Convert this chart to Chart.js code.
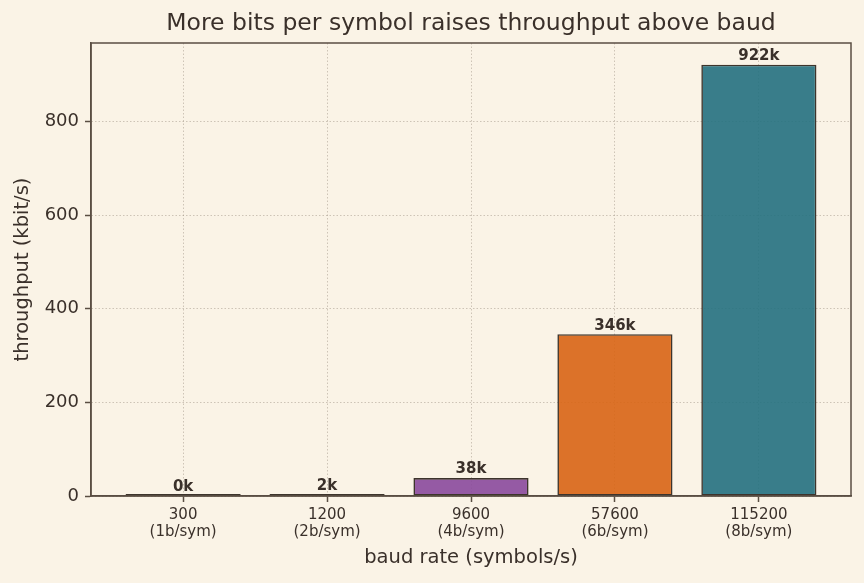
<!DOCTYPE html>
<html>
<head>
<meta charset="utf-8">
<script src="https://cdn.jsdelivr.net/npm/chart.js@4/dist/chart.umd.min.js"></script>
<style>
  html,body{margin:0;padding:0;background:#faf3e6;}
  #wrap{width:864px;height:583px;position:relative;}
</style>
</head>
<body>
<div id="wrap"><canvas id="c" width="864" height="583"></canvas></div>
<script>
const chartTitle = 'More bits per symbol raises throughput above baud';
const baudRates = ['300', '1200', '9600', '57600', '115200'];
const bitsPerSymbol = ['1b/sym', '2b/sym', '4b/sym', '6b/sym', '8b/sym'];
const throughputKbps = [0.3, 2.4, 38.4, 345.6, 921.6];
const barColors = ['rgba(74,122,170,0.9)', 'rgba(201,154,40,0.9)', 'rgba(137,73,156,0.9)', 'rgba(216,100,20,0.9)', 'rgba(36,112,128,0.9)'];
const yTicks = [0, 200, 400, 600, 800];

const textColor = '#3a302a';
const axisColor = '#5a4e43';
const gridColor = 'rgba(150,140,125,0.45)';

const frame = {
  id: 'frame',
  afterDatasetsDraw(chart) {
    const {ctx, chartArea: a} = chart;
    ctx.save();
    ctx.strokeStyle = axisColor;
    ctx.lineWidth = 1.5;
    ctx.strokeRect(a.left, a.top, a.right - a.left, a.bottom - a.top);
    ctx.restore();
  }
};

const plotTitle = {
  id: 'plotTitle',
  afterDraw(chart) {
    const {ctx, chartArea: a} = chart;
    ctx.save();
    ctx.font = '23.5px "DejaVu Sans"';
    ctx.fillStyle = textColor;
    ctx.textAlign = 'center';
    ctx.textBaseline = 'middle';
    ctx.fillText(chartTitle, (a.left + a.right) / 2, 24);
    ctx.restore();
  }
};

const valueLabels = {
  id: 'valueLabels',
  afterDatasetsDraw(chart) {
    const {ctx} = chart;
    const meta = chart.getDatasetMeta(0);
    const ys = chart.scales.y;
    ctx.save();
    ctx.font = 'bold 15px "DejaVu Sans"';
    ctx.fillStyle = textColor;
    ctx.textAlign = 'center';
    ctx.textBaseline = 'bottom';
    meta.data.forEach((bar, i) => {
      ctx.fillText(Math.round(throughputKbps[i]) + 'k', bar.x, ys.getPixelForValue(throughputKbps[i]) - 1);
    });
    ctx.restore();
  }
};

new Chart(document.getElementById('c'), {
  type: 'bar',
  data: {
    datasets: [{
      data: throughputKbps.map((v, i) => ({x: i, y: v})),
      backgroundColor: barColors,
      borderColor: '#3d342c',
      borderWidth: 1.6,
      borderSkipped: false,
      minBarLength: 2,
      categoryPercentage: 1,
      barPercentage: 0.8
    }]
  },
  options: {
    responsive: false,
    animation: false,
    layout: {padding: {left: 0, right: 13, top: 43, bottom: 0}},
    plugins: {
      legend: {display: false},
      tooltip: {enabled: false},
      title: {display: false}
    },
    scales: {
      x: {
        type: 'linear',
        offset: false,
        min: -0.64,
        max: 4.64,
        afterBuildTicks(scale) { scale.ticks = baudRates.map((_, i) => ({value: i})); },
        afterFit(scale) { scale.height = 87; },
        ticks: {
          color: textColor,
          font: {family: '"DejaVu Sans"', size: 15, lineHeight: 1.1},
          padding: 5,
          maxRotation: 0,
          autoSkip: false,
          callback: (v) => [baudRates[v], '(' + bitsPerSymbol[v] + ')']
        },
        grid: {offset: false, color: gridColor, lineWidth: 1, tickColor: axisColor, tickLength: 6, tickWidth: 1.5},
        border: {color: axisColor, width: 1.5, dash: [1.5, 2]},
        title: {
          display: true,
          text: 'baud rate (symbols/s)',
          color: textColor,
          font: {family: '"DejaVu Sans"', size: 19.5, lineHeight: 1.2},
          padding: {top: 0, bottom: 13}
        }
      },
      y: {
        min: 0,
        max: 968,
        afterBuildTicks(scale) { scale.ticks = yTicks.map(v => ({value: v})); },
        afterFit(scale) { scale.width = 91; },
        ticks: {
          color: textColor,
          font: {family: '"DejaVu Sans"', size: 18},
          padding: 6
        },
        grid: {color: gridColor, lineWidth: 1, tickColor: axisColor, tickLength: 6, tickWidth: 1.5},
        border: {color: axisColor, width: 1.5, dash: [1.5, 2]},
        title: {
          display: true,
          text: 'throughput (kbit/s)',
          color: textColor,
          font: {family: '"DejaVu Sans"', size: 19.5, lineHeight: 1.2},
          padding: {top: 11, bottom: 0}
        }
      }
    }
  },
  plugins: [frame, valueLabels, plotTitle]
});
</script>
</body>
</html>
